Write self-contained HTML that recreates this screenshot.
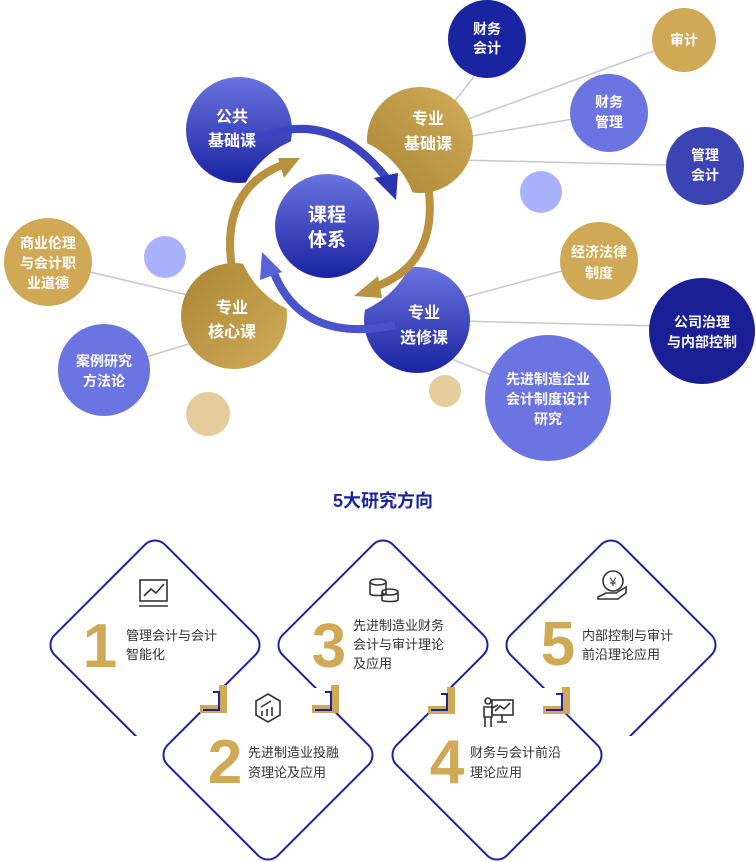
<!DOCTYPE html>
<html><head><meta charset="utf-8"><style>
html,body{margin:0;padding:0;background:#fff;}
svg{display:block;}
text{font-family:"Liberation Sans","Noto Sans CJK SC",sans-serif;}
.w{fill:#fff;font-weight:bold;text-anchor:middle;}
.d{fill:#333;font-size:13px;}
.n{fill:#cfa956;font-size:62px;font-weight:bold;text-anchor:middle;}
</style></head><body>
<svg width="756" height="862" viewBox="0 0 756 862" xmlns="http://www.w3.org/2000/svg">
<defs>
<linearGradient id="gb" x1="0" y1="0" x2="0" y2="1"><stop offset="0" stop-color="#6b73e0"/><stop offset="1" stop-color="#1a23a0"/></linearGradient>
<linearGradient id="gg" x1="1" y1="0" x2="0" y2="1"><stop offset="0" stop-color="#d1ad5a"/><stop offset="1" stop-color="#a98535"/></linearGradient>
<linearGradient id="gg2" x1="0" y1="0" x2="1" y2="1"><stop offset="0" stop-color="#a98535"/><stop offset="1" stop-color="#d1ad5a"/></linearGradient>
<clipPath id="up"><rect x="0" y="0" width="756" height="736"/></clipPath>
<clipPath id="lo"><rect x="0" y="712" width="756" height="200"/></clipPath>
<clipPath id="lo2"><rect x="0" y="688" width="756" height="200"/></clipPath>
<rect id="dm" x="-78" y="-78" width="156" height="156" rx="14"/>
</defs>
<g stroke="#c8c8c8" stroke-width="1.5">
<line x1="440" y1="120" x2="487" y2="60"/>
<line x1="460" y1="122" x2="684" y2="40"/>
<line x1="460" y1="138" x2="609" y2="113"/>
<line x1="460" y1="160" x2="705" y2="166"/>
<line x1="48" y1="262" x2="234" y2="306"/>
<line x1="104" y1="370" x2="234" y2="330"/>
<line x1="417" y1="310" x2="599" y2="261"/>
<line x1="417" y1="320" x2="702" y2="327"/>
<line x1="417" y1="345" x2="548" y2="398"/>
</g>
<circle cx="541" cy="192" r="21" fill="#aab2fb"/>
<circle cx="165" cy="257" r="21" fill="#aab2fb"/>
<circle cx="208" cy="414" r="22" fill="#e3cd9c"/>
<circle cx="445" cy="391" r="16" fill="#e3cd9c"/>
<circle cx="487" cy="39" r="39" fill="#1a23a0"/>
<text class="w" font-size="14" x="487" y="34">财务</text><text class="w" font-size="14" x="487" y="53">会计</text>
<circle cx="684" cy="40" r="32" fill="#cfa956"/>
<text class="w" font-size="14" x="684" y="45">审计</text>
<circle cx="609" cy="113" r="39" fill="#6b74e0"/>
<text class="w" font-size="14" x="609" y="107">财务</text><text class="w" font-size="14" x="609" y="127">管理</text>
<circle cx="705" cy="166" r="39" fill="#3c44b4"/>
<text class="w" font-size="14" x="705" y="160">管理</text><text class="w" font-size="14" x="705" y="180">会计</text>
<circle cx="48" cy="262" r="44" fill="#cfa956"/>
<text class="w" font-size="14" x="48" y="248">商业伦理</text><text class="w" font-size="14" x="48" y="268">与会计职</text><text class="w" font-size="14" x="48" y="288">业道德</text>
<circle cx="104" cy="370" r="46" fill="#6b74e0"/>
<text class="w" font-size="14" x="104" y="366">案例研究</text><text class="w" font-size="14" x="104" y="386">方法论</text>
<circle cx="599" cy="261" r="39" fill="#cfa956"/>
<text class="w" font-size="14" x="599" y="257">经济法律</text><text class="w" font-size="14" x="599" y="278">制度</text>
<circle cx="702" cy="331" r="53" fill="#1a1f96"/>
<text class="w" font-size="14" x="702" y="327">公司治理</text><text class="w" font-size="14" x="702" y="347">与内部控制</text>
<circle cx="548" cy="398" r="63" fill="#6b74e0"/>
<text class="w" font-size="14" x="548" y="384">先进制造企业</text><text class="w" font-size="14" x="548" y="404">会计制度设计</text><text class="w" font-size="14" x="548" y="424">研究</text>
<circle cx="239" cy="130" r="53" fill="url(#gb)"/>
<circle cx="420" cy="140" r="53" fill="url(#gg)"/>
<circle cx="234" cy="316" r="53" fill="url(#gg2)"/>
<circle cx="417" cy="320" r="53" fill="url(#gb)"/>
<circle cx="327" cy="226" r="92" fill="#fff"/>
<text class="w" font-size="16" x="232" y="122">公共</text><text class="w" font-size="16" x="232" y="146">基础课</text>
<text class="w" font-size="16" x="428" y="124">专业</text><text class="w" font-size="16" x="428" y="149">基础课</text>
<text class="w" font-size="16" x="232" y="313">专业</text><text class="w" font-size="16" x="232" y="337">核心课</text>
<text class="w" font-size="16" x="424" y="318">专业</text><text class="w" font-size="16" x="424" y="343">选修课</text>
<path d="M255,140 Q330,105 388,180" fill="none" stroke="#3c44c0" stroke-width="8"/>
<polygon points="374,178 398,173 396,200" fill="#2a33b0"/>
<path d="M428,185 Q440,265 372,288" fill="none" stroke="#b8923f" stroke-width="8"/>
<polygon points="378,276 382,298 354,296" fill="#b8923f"/>
<path d="M395,325 Q300,345 272,268" fill="none" stroke="#4a52cc" stroke-width="8"/>
<polygon points="260,280 262,252 282,272" fill="#5a62d8"/>
<path d="M232,268 Q220,190 282,165" fill="none" stroke="#b8923f" stroke-width="8"/>
<polygon points="278,158 300,158 284,178" fill="#b8923f"/>
<circle cx="327" cy="226" r="52" fill="url(#gb)"/>
<text class="w" font-size="19" x="327" y="221">课程</text><text class="w" font-size="19" x="327" y="246">体系</text>
<text x="383" y="507" font-size="18" font-weight="bold" fill="#1a23a0" text-anchor="middle">5大研究方向</text>
<g clip-path="url(#up)" fill="#fff" stroke="#1a23a0" stroke-width="2">
<use href="#dm" transform="translate(155,645) rotate(45)"/>
<use href="#dm" transform="translate(383,645) rotate(45)"/>
<use href="#dm" transform="translate(611,645) rotate(45)"/>
</g>
<g clip-path="url(#lo2)" fill="#fff" stroke="#fff" stroke-width="22">
<use href="#dm" transform="translate(268,755) rotate(45)"/>
<use href="#dm" transform="translate(497,755) rotate(45)"/>
</g>
<g clip-path="url(#lo)" fill="#fff" stroke="#1a23a0" stroke-width="2">
<use href="#dm" transform="translate(268,755) rotate(45)"/>
<use href="#dm" transform="translate(497,755) rotate(45)"/>
</g>
<g fill="#cfa956">
<rect x="219" y="685" width="8" height="28"/><rect x="200" y="705" width="27" height="8"/>
<rect x="331" y="685" width="8" height="28"/><rect x="312" y="705" width="27" height="8"/>
<rect x="447" y="687" width="8" height="27"/><rect x="428" y="706" width="27" height="8"/>
<rect x="562" y="687" width="8" height="27"/><rect x="543" y="706" width="27" height="8"/>
</g>
<g fill="none" stroke="#1a23a0" stroke-width="2">
<path d="M213,692h6v18h-16"/><path d="M325,692h6v18h-16"/>
<path d="M441,694h6v16h-16"/><path d="M556,694h6v16h-16"/>
</g>
<text class="n" x="100" y="667">1</text>
<text class="d" x="126" y="640">管理会计与会计</text><text class="d" x="126" y="659">智能化</text>
<text class="n" x="329" y="667">3</text>
<text class="d" x="353" y="630">先进制造业财务</text><text class="d" x="353" y="649">会计与审计理论</text><text class="d" x="353" y="668">及应用</text>
<text class="n" x="558" y="665">5</text>
<text class="d" x="582" y="640">内部控制与审计</text><text class="d" x="582" y="659">前沿理论应用</text>
<text class="n" x="225" y="783">2</text>
<text class="d" x="248" y="757">先进制造业投融</text><text class="d" x="248" y="777">资理论及应用</text>
<text class="n" x="447" y="783">4</text>
<text class="d" x="470" y="757">财务与会计前沿</text><text class="d" x="470" y="777">理论应用</text>
<g fill="none" stroke="#333" stroke-width="1.6">
<rect x="140" y="580" width="27" height="21"/><line x1="139" y1="606" x2="168" y2="606"/>
<polyline points="144,596 151,589 156,593 164,584"/>
<ellipse cx="378" cy="582" rx="8" ry="3"/><path d="M370,582v12c0,2 16,2 16,0v-12"/>
<ellipse cx="390" cy="592" rx="8" ry="3"/><path d="M382,592v8c0,2 16,2 16,0v-8"/>
<polygon points="268,694 280,701 280,715 268,722 256,715 256,701"/>
<path d="M262,716v-5M267,716v-7M272,716v-9M261,707l10,-6"/>
<circle cx="613" cy="581" r="10"/><path d="M598,597l8,-4h10l10,-6v6l-8,6h-20z"/>
<rect x="492" y="700" width="21" height="15"/><polyline points="495,711 500,706 504,709 510,703"/><path d="M502,715v7M497,722h10"/>
<circle cx="488" cy="701" r="3"/><path d="M484,707h8v10h-8zM485,717v10M491,717v10M492,708l6,-3"/>
</g>
<text x="613" y="586" font-size="12" fill="#333" text-anchor="middle">¥</text>
</svg>
</body></html>
